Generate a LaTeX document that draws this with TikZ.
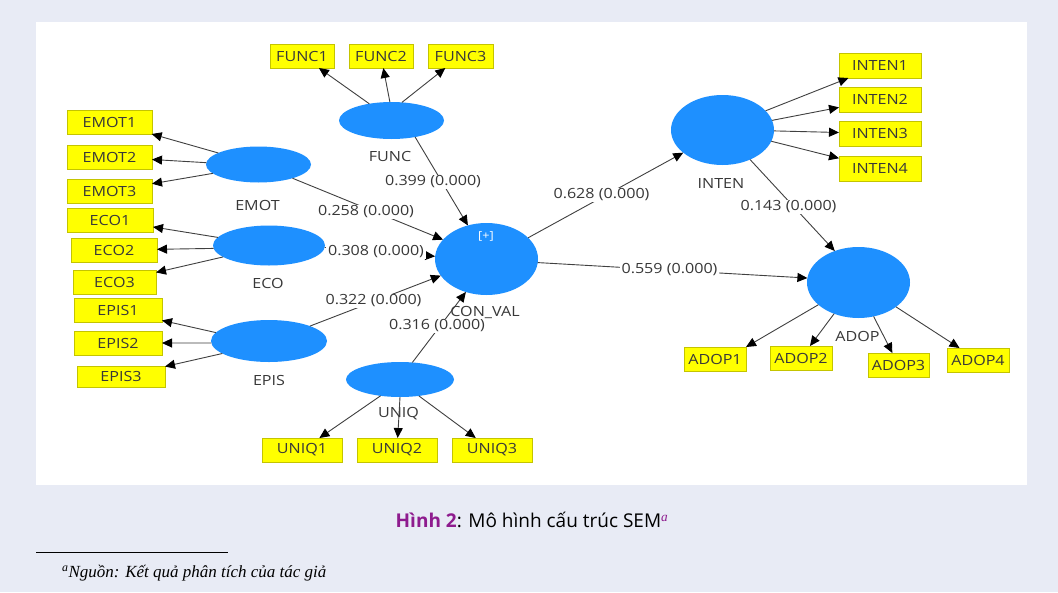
\documentclass[tikz,border=0pt]{standalone}
\usepackage{fontspec}
\setmainfont{Open Sans}
\newfontfamily\plsfont[FakeStretch=1.15]{Open Sans}
\newfontfamily\capfont{Open Sans}
\newfontfamily\notefont{Liberation Serif}
\usetikzlibrary{shapes.geometric,arrows.meta}

\definecolor{pagebg}{HTML}{E8EBF5}
\definecolor{latentblue}{HTML}{1E90FF}
\definecolor{indfill}{HTML}{FFFF00}
\definecolor{inddraw}{HTML}{C4C400}
\definecolor{inktext}{HTML}{383838}
\definecolor{edgeink}{HTML}{404040}
\definecolor{capmag}{HTML}{8E1B8E}

\tikzset{
  lat/.style={ellipse, fill=latentblue, inner sep=0pt, outer sep=0pt},
  latname/.style={font=\plsfont\fontsize{14}{16}\selectfont, text=inktext, inner sep=0pt},
  ind/.style={rectangle, draw=inddraw, fill=indfill, line width=0.8pt,
    minimum height=24pt, inner sep=0pt, outer sep=0pt,
    font=\plsfont\fontsize{14}{16}\selectfont, text=inktext},
  arr/.style={draw=edgeink, line width=0.9pt,
    -{Triangle[length=10pt,width=9pt,color=black]}},
  coef/.style={fill=white, inner xsep=2pt, inner ysep=1pt,
    font=\plsfont\fontsize{14}{16}\selectfont, text=inktext}
}

\begin{document}
\begin{tikzpicture}[x=1pt,y=-1pt]
\useasboundingbox (0,0) rectangle (1058,592);
\fill[pagebg] (0,0) rectangle (1058,592);
\fill[white] (36,22) rectangle (1027,485);

% latent constructs
\node[lat, minimum width=105pt, minimum height=37pt] (FUNC) at (391.5,120.5) {};
\node[lat, minimum width=105pt, minimum height=36pt] (EMOT) at (258.5,164.5) {};
\node[lat, minimum width=112pt, minimum height=40pt] (ECO) at (269,245.5) {};
\node[lat, minimum width=116pt, minimum height=42pt] (EPIS) at (269,341) {};
\node[lat, minimum width=108pt, minimum height=35pt] (UNIQ) at (400,379.5) {};
\node[lat, minimum width=103pt, minimum height=72pt] (CONVAL) at (486.5,259) {};
\node[lat, minimum width=103pt, minimum height=70pt] (INTEN) at (722.5,130) {};
\node[lat, minimum width=103pt, minimum height=71pt] (ADOP) at (858.5,282.5) {};

% construct names
\node[latname] (nFUNC) at (390,156) {FUNC};
\node[latname] (nEMOT) at (257.5,205) {EMOT};
\node[latname] (nECO) at (268,283) {ECO};
\node[latname] (nEPIS) at (269,380) {EPIS};
\node[latname] (nUNIQ) at (398.5,414) {UNIQ};
\node[latname] (nINTEN) at (721,183) {INTEN};
\node[latname] (nADOP) at (857.5,336) {ADOP};
\node[latname, text=white, font=\plsfont\fontsize{11}{12}\selectfont] (plus) at (486,236) {[+]};

% indicators
\node[ind, minimum width=64pt] (FUNC1) at (302,56) {FUNC1};
\node[ind, minimum width=64pt] (FUNC2) at (381,56) {FUNC2};
\node[ind, minimum width=65pt] (FUNC3) at (460.5,56) {FUNC3};
\node[ind, minimum width=85pt] (EMOT1) at (109.5,122) {EMOT1};
\node[ind, minimum width=85pt] (EMOT2) at (109.5,157) {EMOT2};
\node[ind, minimum width=85pt] (EMOT3) at (109.5,191) {EMOT3};
\node[ind, minimum width=86pt] (ECO1) at (110,220) {ECO1};
\node[ind, minimum width=86pt] (ECO2) at (114,250) {ECO2};
\node[ind, minimum width=83pt] (ECO3) at (114.5,282) {ECO3};
\node[ind, minimum width=88pt] (EPIS1) at (118,310.5) {EPIS1};
\node[ind, minimum width=88pt] (EPIS2) at (118,343) {EPIS2};
\node[ind, minimum width=88pt, minimum height=21pt] (EPIS3) at (121,376.5) {EPIS3};
\node[ind, minimum width=80pt] (UNIQ1) at (302,450) {UNIQ1};
\node[ind, minimum width=80pt] (UNIQ2) at (397,450) {UNIQ2};
\node[ind, minimum width=80pt] (UNIQ3) at (492,450) {UNIQ3};
\node[ind, minimum width=82pt, minimum height=25pt] (INTEN1) at (880,65.5) {INTEN1};
\node[ind, minimum width=82pt, minimum height=25pt] (INTEN2) at (880,99.5) {INTEN2};
\node[ind, minimum width=82pt, minimum height=25pt] (INTEN3) at (880,133.5) {INTEN3};
\node[ind, minimum width=82pt, minimum height=25pt] (INTEN4) at (880,168.5) {INTEN4};
\node[ind, minimum width=62pt] (ADOP1) at (715,359) {ADOP1};
\node[ind, minimum width=62pt] (ADOP2) at (801,358) {ADOP2};
\node[ind, minimum width=61pt] (ADOP3) at (898.5,365) {ADOP3};
\node[ind, minimum width=62pt] (ADOP4) at (978,360) {ADOP4};

% outer loadings
\draw[arr] (FUNC.143) -- (FUNC1);
\draw[arr] (FUNC.95) -- (FUNC2);
\draw[arr] (FUNC.60) -- (FUNC3);
\draw[arr] (EMOT.164) -- (EMOT1);
\draw[arr] (EMOT.178) -- (EMOT2);
\draw[arr] (EMOT.-169) -- (EMOT3);
\draw[arr] (ECO.171) -- (ECO1);
\draw[arr] (ECO.-177) -- (ECO2);
\draw[arr] (ECO.-166) -- (ECO3);
\draw[arr] (EPIS.171) -- (EPIS1);
\draw[arr] (EPIS.-178) -- (EPIS2);
\draw[arr] (EPIS.-165) -- (EPIS3);
\draw[arr] (UNIQ.-140) -- (UNIQ1);
\draw[arr] (UNIQ.-90) -- (UNIQ2);
\draw[arr] (UNIQ.-41) -- (UNIQ3);
\draw[arr] (INTEN.24) -- (INTEN1);
\draw[arr] (INTEN.11) -- (INTEN2);
\draw[arr] (INTEN.-1) -- (INTEN3);
\draw[arr] (INTEN.-13) -- (INTEN4);
\draw[arr] (ADOP.-151) -- (ADOP1.north east);
\draw[arr] (ADOP.-128) -- (ADOP2);
\draw[arr] (ADOP.-66) -- (ADOP3);
\draw[arr] (ADOP.-33) -- (ADOP4);

% structural paths
\draw[arr] (FUNC.-35) -- (CONVAL.119);
\draw[arr] (EMOT.-22) -- (CONVAL.156);
\draw[arr] (ECO.-2) -- (CONVAL.177);
\draw[arr] (EPIS.20) -- (CONVAL.-160);
\draw[arr] (UNIQ.54) -- (CONVAL.-122);
\draw[arr] (CONVAL.27) -- (INTEN.-150);
\draw[arr] (CONVAL.-4) -- (ADOP.175);
\draw[arr] (INTEN.-47) -- (ADOP.127);

% path coefficients
\node[coef] (c1) at (433,182) {0.399 (0.000)};
\node[coef] (c2) at (366,212) {0.258 (0.000)};
\node[coef] (c3) at (376,252) {0.308 (0.000)};
\node[coef] (c4) at (373.5,301) {0.322 (0.000)};
\node[coef] (c5) at (437,326) {0.316 (0.000)};
\node[coef] (c6) at (601.5,195) {0.628 (0.000)};
\node[coef] (c7) at (669.5,270) {0.559 (0.000)};
\node[coef] (c8) at (788.5,207) {0.143 (0.000)};

\node[latname] (nCONVAL) at (485,312) {CON\_VAL};

% caption and footnote
\node[inner sep=0pt, font=\capfont\fontsize{19}{21}\selectfont, text=black] (cap) at (532,520)
  {\textcolor{capmag}{\bfseries Hình 2}: Mô hình cấu trúc SEM\textsuperscript{\textcolor{capmag}{\notefont\itshape a}}};
\coordinate (ruleL) at (36,552);
\coordinate (ruleR) at (228,552);
\draw[line width=0.8pt] (ruleL) -- (ruleR);
\node[anchor=west, inner sep=0pt, font=\notefont\itshape\fontsize{17}{19}\selectfont] (note) at (62,573)
  {\textsuperscript{a}Nguồn: Kết quả phân tích của tác giả};
\end{tikzpicture}
\end{document}
